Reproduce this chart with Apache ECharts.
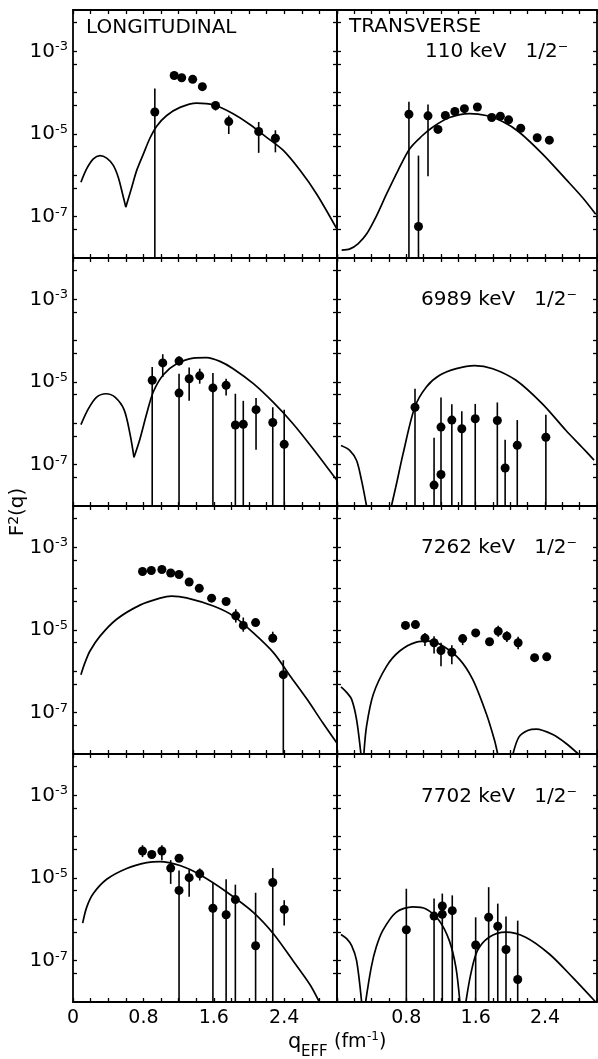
<!DOCTYPE html>
<html><head><meta charset="utf-8">
<script src="https://cdn.jsdelivr.net/npm/echarts@6/dist/echarts.min.js"></script>
<style>html,body{margin:0;padding:0;background:#fff}#c{width:598px;height:1059px}</style>
</head><body><div id="c"></div>
<script>
// ================= DATA =================
const stateLabels = ['110 keV   1/2\u207B', '6989 keV   1/2\u207B', '7262 keV   1/2\u207B', '7702 keV   1/2\u207B'];
const columnTitles = ['LONGITUDINAL', 'TRANSVERSE'];
const yTickValues = [5e-8, 1e-7, 5e-7, 1e-6, 5e-6, 1e-5, 5e-5, 1e-4, 5e-4, 1e-3, 5e-3];
const yLabelValues = [1e-7, 1e-5, 1e-3];
const xLabelValuesLeft = [0, 0.8, 1.6, 2.4];
const xLabelValuesRight = [0.8, 1.6, 2.4];

// ---- 110 keV ----
const long110Points = [[0.93,3.4e-5],[1.15,2.6e-4],[1.235,2.3e-4],[1.36,2.1e-4],[1.47,1.4e-4],[1.62,4.9e-5],[1.77,2.0e-5],[2.11,1.15e-5],[2.30,7.9e-6]];
const long110Errors = [[0.93,1e-8,1.26e-4],[1.62,3.7e-5,6.0e-5],[1.77,1.0e-5,2.8e-5],[2.11,3.5e-6,1.95e-5],[2.30,3.6e-6,1.23e-5]];
const long110Theory = [
  [[0.09,6.8e-7],[0.156,1.45e-6],[0.231,2.5e-6],[0.307,3.0e-6],[0.383,2.6e-6],[0.458,1.74e-6],[0.515,8.9e-7],[0.564,3.5e-7],[0.60,1.7e-7]],
  [[0.60,1.7e-7],[0.667,5.1e-7],[0.724,1.32e-6],[0.80,3.3e-6],[0.875,8.0e-6],[0.951,1.55e-5],[1.065,2.8e-5],[1.216,4.4e-5],[1.405,5.6e-5],[1.595,5.1e-5],[1.82,3.1e-5],[2.01,1.7e-5],[2.20,8.3e-6],[2.39,4.0e-6],[2.58,1.32e-6],[2.77,3.5e-7],[3.0,5.0e-8]]
];
const trans110Points = [[0.83,3.0e-5],[0.94,5.8e-8],[1.05,2.75e-5],[1.165,1.29e-5],[1.25,2.8e-5],[1.36,3.5e-5],[1.47,4.1e-5],[1.62,4.5e-5],[1.785,2.5e-5],[1.885,2.7e-5],[1.98,2.2e-5],[2.12,1.38e-5],[2.31,8.1e-6],[2.45,7.1e-6]];
const trans110Errors = [[0.83,1e-8,6.0e-5],[0.94,1e-8,3.0e-6],[1.05,9.5e-7,5.2e-5]];
const trans110Theory = [
  [[0.054,1.55e-8],[0.149,1.66e-8],[0.245,2.24e-8],[0.341,3.8e-8],[0.456,1.05e-7],[0.571,3.5e-7],[0.705,1.32e-6],[0.839,4.4e-6],[0.973,8.7e-6],[1.107,1.48e-5],[1.299,2.5e-5],[1.529,3.1e-5],[1.72,2.8e-5],[1.91,2.0e-5],[2.10,1.12e-5],[2.37,3.3e-6],[2.64,8.1e-7],[2.83,2.95e-7],[2.985,1.15e-7]]
];

// ---- 6989 keV ----
const long6989Points = [[0.90,1.10e-5],[1.02,2.9e-5],[1.205,3.2e-5],[1.205,5.4e-6],[1.32,1.2e-5],[1.44,1.41e-5],[1.59,7.2e-6],[1.74,8.3e-6],[1.845,9.1e-7],[1.935,9.5e-7],[2.08,2.14e-6],[2.27,1.05e-6],[2.40,3.1e-7]];
const long6989Errors = [[0.90,1e-8,2.3e-5],[1.02,1.32e-5,4.7e-5],[1.205,2.5e-5,4.2e-5],[1.205,1e-8,1.58e-5],[1.32,3.5e-6,2.24e-5],[1.44,9.1e-6,2.1e-5],[1.59,1e-8,1.66e-5],[1.74,4.7e-6,1.2e-5],[1.845,1e-8,5.2e-6],[1.935,1e-8,3.5e-6],[2.08,2.3e-7,4.1e-6],[2.27,1e-8,2.45e-6],[2.40,1e-8,2.14e-6]];
const long6989Theory = [
  [[0.09,9.3e-7],[0.174,2.24e-6],[0.269,4.3e-6],[0.375,5.2e-6],[0.477,4.3e-6],[0.58,2.14e-6],[0.648,5.5e-7],[0.693,1.51e-7]],
  [[0.693,1.51e-7],[0.761,4.2e-7],[0.837,1.7e-6],[0.913,5.8e-6],[1.027,1.5e-5],[1.178,2.75e-5],[1.367,3.8e-5],[1.519,3.9e-5],[1.67,3.16e-5],[1.82,2.1e-5],[2.05,9.1e-6],[2.277,3.2e-6],[2.50,9.8e-7],[2.73,2.4e-7],[2.995,4.3e-8]]
];
const trans6989Points = [[0.90,2.45e-6],[1.12,3.2e-8],[1.20,8.1e-7],[1.20,5.8e-8],[1.325,1.2e-6],[1.44,7.4e-7],[1.595,1.29e-6],[1.85,1.17e-6],[1.94,8.3e-8],[2.08,2.95e-7],[2.41,4.6e-7]];
const trans6989Errors = [[0.90,1e-8,6.9e-6],[1.12,1e-8,4.5e-7],[1.20,1e-8,4.2e-6],[1.325,1e-8,2.9e-6],[1.44,1e-8,1.95e-6],[1.595,1e-8,2.95e-6],[1.85,1e-8,3.2e-6],[1.94,1e-8,4.0e-7],[2.08,1e-8,1.2e-6],[2.41,1e-8,1.62e-6]];
const trans6989Theory = [
  [[0.046,2.9e-7],[0.149,2.2e-7],[0.226,1.26e-7],[0.284,4.1e-8],[0.341,1e-8]],
  [[0.628,1e-8],[0.686,3.4e-8],[0.762,1.82e-7],[0.897,2.45e-6],[1.031,7.6e-6],[1.184,1.45e-5],[1.376,2.1e-5],[1.586,2.5e-5],[1.797,2.1e-5],[2.066,1.1e-5],[2.37,2.95e-6],[2.64,6.8e-7],[2.83,2.6e-7],[2.966,1.29e-7]]
];

// ---- 7262 keV ----
const long7262Points = [[0.79,2.6e-4],[0.89,2.75e-4],[1.01,2.9e-4],[1.11,2.4e-4],[1.205,2.2e-4],[1.32,1.45e-4],[1.435,1.02e-4],[1.575,5.9e-5],[1.74,4.9e-5],[1.85,2.2e-5],[1.935,1.29e-5],[2.075,1.51e-5],[2.27,6.3e-6],[2.39,8.3e-7]];
const long7262Errors = [[1.85,1.51e-5,3.16e-5],[1.935,9.1e-6,2.0e-5],[2.27,5.2e-6,9.1e-6],[2.39,1e-8,1.86e-6]];
const long7262Theory = [
  [[0.09,8.3e-7],[0.136,1.62e-6],[0.193,3.1e-6],[0.307,7.1e-6],[0.496,1.82e-5],[0.761,4.0e-5],[0.989,5.9e-5],[1.12,6.6e-5],[1.29,6.0e-5],[1.595,3.8e-5],[1.82,2.2e-5],[2.05,8.5e-6],[2.28,2.8e-6],[2.47,7.6e-7],[2.66,2.1e-7],[2.84,5.6e-8],[3.0,1.82e-8]]
];
const trans7262Points = [[0.79,1.29e-5],[0.905,1.35e-5],[1.015,6.3e-6],[1.12,4.9e-6],[1.20,3.2e-6],[1.325,2.9e-6],[1.45,6.2e-6],[1.60,8.5e-6],[1.76,5.2e-6],[1.86,9.3e-6],[1.96,7.1e-6],[2.09,4.9e-6],[2.28,2.14e-6],[2.42,2.24e-6]];
const trans7262Errors = [[1.015,4.1e-6,8.5e-6],[1.12,2.7e-6,7.1e-6],[1.20,1.32e-6,4.9e-6],[1.325,1.48e-6,4.3e-6],[1.45,4.3e-6,7.8e-6],[1.86,6.9e-6,1.26e-5],[1.96,5.1e-6,9.3e-6],[2.09,3.4e-6,6.9e-6]];
const trans7262Theory = [
  [[0.046,4.2e-7],[0.111,3.1e-7],[0.169,2.1e-7],[0.226,6.8e-8],[0.276,1e-8]],
  [[0.31,1e-8],[0.341,4.7e-8],[0.418,2.75e-7],[0.571,1.32e-6],[0.724,3.1e-6],[0.916,5.1e-6],[1.069,5.4e-6],[1.222,4.1e-6],[1.414,1.95e-6],[1.567,6.3e-7],[1.72,9.8e-8],[1.816,2.2e-8],[1.854,1e-8]],
  [[2.03,1e-8],[2.10,2.6e-8],[2.20,3.7e-8],[2.30,4.0e-8],[2.49,2.95e-8],[2.64,1.82e-8],[2.785,1e-8]]
];

// ---- 7702 keV ----
const long7702Points = [[0.79,4.5e-5],[0.895,3.7e-5],[1.01,4.5e-5],[1.11,1.74e-5],[1.205,3.0e-5],[1.205,5.0e-6],[1.32,1.02e-5],[1.44,1.26e-5],[1.59,1.86e-6],[1.74,1.29e-6],[1.845,3.0e-6],[2.075,2.3e-7],[2.27,7.8e-6],[2.40,1.74e-6]];
const long7702Errors = [[0.79,3.2e-5,6.2e-5],[1.01,2.7e-5,6.2e-5],[1.11,7.2e-6,2.7e-5],[1.205,1e-8,1.51e-5],[1.32,3.5e-6,1.58e-5],[1.44,8.7e-6,1.7e-5],[1.59,1e-8,7.6e-6],[1.74,1e-8,9.3e-6],[1.845,1e-8,6.9e-6],[2.075,1e-8,4.4e-6],[2.27,1e-8,1.74e-5],[2.40,7.1e-7,2.9e-6]];
const long7702Theory = [
  [[0.11,8.1e-7],[0.155,1.95e-6],[0.231,4.2e-6],[0.383,9.3e-6],[0.61,1.7e-5],[0.837,2.35e-5],[0.989,2.5e-5],[1.216,2.0e-5],[1.443,1.2e-5],[1.746,4.6e-6],[2.049,1.48e-6],[2.277,4.5e-7],[2.50,1.0e-7],[2.69,2.7e-8],[2.80,1e-8]]
];
const trans7702Points = [[0.80,5.6e-7],[1.12,1.2e-6],[1.215,2.1e-6],[1.215,1.32e-6],[1.33,1.62e-6],[1.60,2.4e-7],[1.75,1.12e-6],[1.855,6.8e-7],[1.95,1.86e-7],[2.085,3.5e-8]];
const trans7702Errors = [[0.80,1e-8,5.5e-6],[1.12,1e-8,3.2e-6],[1.215,1e-8,4.2e-6],[1.33,1e-8,3.8e-6],[1.60,1e-8,1.12e-6],[1.75,1e-8,6.0e-6],[1.855,1e-8,2.4e-6],[1.95,1e-8,1.17e-6],[2.085,1e-8,9.3e-7]];
const trans7702Theory = [
  [[0.046,4.3e-7],[0.111,3.4e-7],[0.169,2.3e-7],[0.226,1.0e-7],[0.284,1e-8]],
  [[0.33,1e-8],[0.395,6.9e-8],[0.452,2.1e-7],[0.529,5.4e-7],[0.682,1.48e-6],[0.874,2.0e-6],[1.027,1.78e-6],[1.18,9.3e-7],[1.295,3.1e-7],[1.372,6.9e-8],[1.418,1e-8]],
  [[1.487,1e-8],[1.544,4.8e-8],[1.62,1.74e-7],[1.755,3.7e-7],[1.946,4.9e-7],[2.176,3.7e-7],[2.45,1.45e-7],[2.716,4.0e-8],[2.985,1e-8]]
];

// ================= LAYOUT / STYLE =================
const FONT = 'DejaVu Sans';
const INK = '#000';
const colLeft = [73, 337], colWidth = [264, 260];
const rowTops = [10, 258, 506, 754], rowH = 248;

const panels = [
  [long110Points, long110Errors, long110Theory], [trans110Points, trans110Errors, trans110Theory],
  [long6989Points, long6989Errors, long6989Theory], [trans6989Points, trans6989Errors, trans6989Theory],
  [long7262Points, long7262Errors, long7262Theory], [trans7262Points, trans7262Errors, trans7262Theory],
  [long7702Points, long7702Errors, long7702Theory], [trans7702Points, trans7702Errors, trans7702Theory]
];

const axisLine = { show: true, onZero: false, lineStyle: { color: INK, width: 1.8 } };
const tickStyle = { color: INK, width: 1.3 };

const grid = [], xAxis = [], yAxis = [], series = [];
panels.forEach((p, g) => {
  const r = Math.floor(g / 2), c = g % 2;
  grid.push({ left: colLeft[c], top: rowTops[r], width: colWidth[c], height: rowH, containLabel: false });
  const xLabVals = c === 0 ? xLabelValuesLeft : xLabelValuesRight;
  const xBase = { gridIndex: g, type: 'value', min: 0, max: 3, interval: 0.2,
    axisLine, splitLine: { show: false },
    axisTick: { show: true, inside: true, length: 4, lineStyle: tickStyle } };
  xAxis.push(Object.assign({}, xBase, { position: 'bottom',
    axisLabel: r === 3 ? { show: true, customValues: xLabVals, margin: 7, color: INK, fontFamily: FONT, fontSize: 19,
      formatter: v => (xLabVals.some(t => Math.abs(t - v) < 1e-6) ? (v === 0 ? '0' : v.toFixed(1)) : '') } : { show: false } }));
  xAxis.push(Object.assign({}, xBase, { position: 'top', axisLabel: { show: false } }));
  const yBase = { gridIndex: g, type: 'log', logBase: 10, min: 1e-8, max: 1e-2,
    axisLine, splitLine: { show: false }, minorTick: { show: false },
    axisTick: { show: true, inside: true, length: 4, customValues: yTickValues, lineStyle: tickStyle } };
  yAxis.push(Object.assign({}, yBase, { position: 'left',
    axisLabel: c === 0 ? { show: true, customValues: yLabelValues, margin: 5,
      formatter: v => { const e = Math.round(Math.log10(v)); return (e === -3 || e === -5 || e === -7) ? '{b|10}{s|' + e + '}' : ''; },
      rich: { b: { fontFamily: FONT, fontSize: 20, color: INK, lineHeight: 22 },
              s: { fontFamily: FONT, fontSize: 13, color: INK, verticalAlign: 'top', lineHeight: 13 } } } : { show: false } }));
  yAxis.push(Object.assign({}, yBase, { position: 'right', axisLabel: { show: false } }));

  const [pts, errs, theory] = p;
  theory.forEach(piece => series.push({ type: 'line', xAxisIndex: 2 * g, yAxisIndex: 2 * g, data: piece,
    showSymbol: false, smooth: 0.3, clip: true, silent: true, z: 2, lineStyle: { color: INK, width: 1.7 } }));
  series.push({ type: 'custom', xAxisIndex: 2 * g, yAxisIndex: 2 * g, data: errs, silent: true, z: 3,
    encode: { x: 0, y: [1, 2] },
    renderItem: (params, api) => {
      const a = api.coord([api.value(0), api.value(1)]);
      const b = api.coord([api.value(0), api.value(2)]);
      return { type: 'line', shape: { x1: a[0], y1: a[1], x2: b[0], y2: b[1] }, style: { stroke: INK, lineWidth: 1.6 } };
    } });
  series.push({ type: 'scatter', xAxisIndex: 2 * g, yAxisIndex: 2 * g, data: pts, symbol: 'circle', symbolSize: 9,
    silent: true, z: 4, itemStyle: { color: INK, opacity: 1 } });
});

const txt = (x, y, text, size, align, extra) => Object.assign({ type: 'text', x, y, silent: true,
  style: { text, fontFamily: FONT, fontSize: size, fill: INK, textAlign: align || 'left', align: align || 'left',
    textVerticalAlign: 'middle', verticalAlign: 'middle' } }, extra || {});

const graphic = [
  txt(86, 28, columnTitles[0], 20),
  txt(349, 27, columnTitles[1], 20),
  txt(425, 52, stateLabels[0], 20),
  txt(577, 300, stateLabels[1], 20, 'right'),
  txt(577, 548, stateLabels[2], 20, 'right'),
  txt(577, 797, stateLabels[3], 20, 'right'),
  // y-axis title F^2(q), rotated
  { type: 'text', x: 18, y: 512, rotation: Math.PI / 2, silent: true,
    style: { text: '{b|F}{s|2}{b|(q)}', textAlign: 'center', align: 'center', textVerticalAlign: 'middle', verticalAlign: 'middle',
      rich: { b: { fontFamily: FONT, fontSize: 20, color: INK, lineHeight: 22 }, s: { fontFamily: FONT, fontSize: 14, color: INK, verticalAlign: 'top', lineHeight: 14 } } } },
  // x-axis title q_EFF (fm^-1)
  txt(288, 1043, 'q', 21),
  txt(301, 1052, 'EFF', 15),
  txt(334, 1042, '(fm', 19),
  txt(367, 1037, '-1', 12),
  txt(379, 1042, ')', 19)
];

const chart = echarts.init(document.getElementById('c'), null, { renderer: 'canvas' });
chart.setOption({ animation: false, backgroundColor: '#fff', grid, xAxis, yAxis, series, graphic });
</script>
</body></html>
